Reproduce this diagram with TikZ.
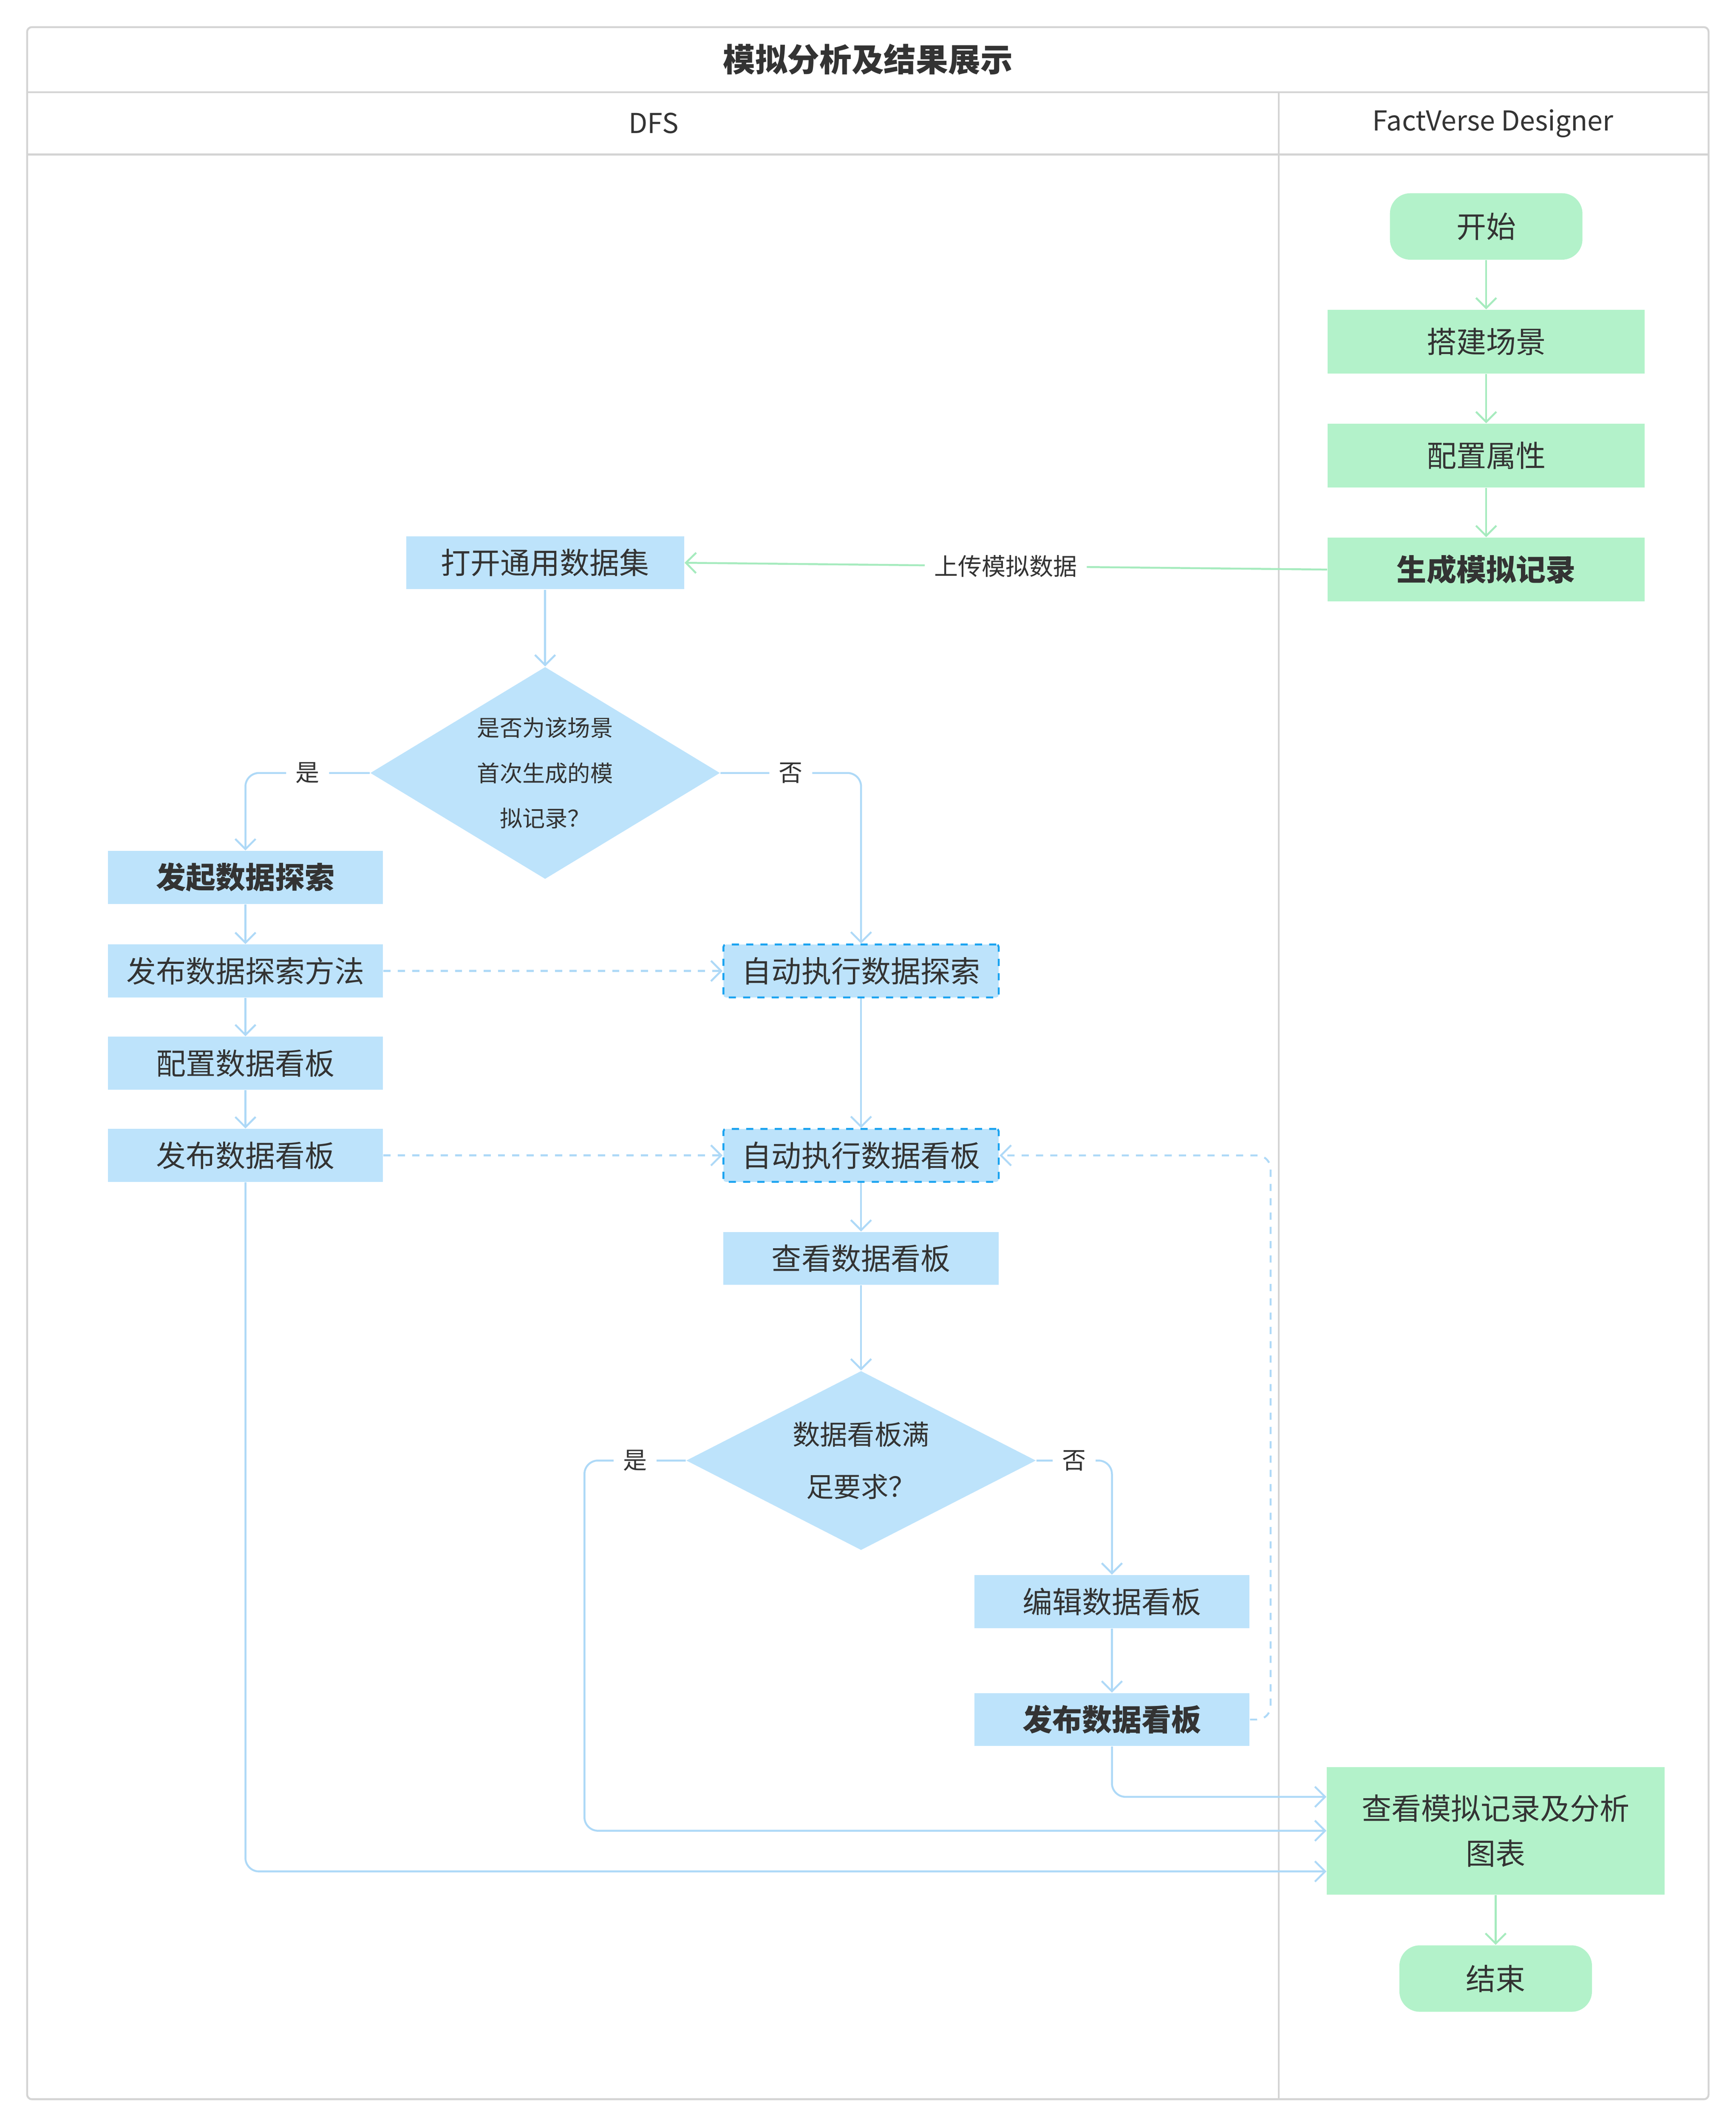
\documentclass[tikz,border=0pt]{standalone}
\usepackage{fontspec}
\setmainfont{Noto Sans CJK SC}
\usetikzlibrary{shapes.geometric,arrows.meta}
\definecolor{boxblue}{HTML}{BDE3FB}
\definecolor{boxgreen}{HTML}{B3F2CA}
\definecolor{lineblue}{HTML}{AED9F7}
\definecolor{linegreen}{HTML}{A6EBBE}
\definecolor{dashblue}{HTML}{1AA3F0}
\definecolor{frame}{HTML}{D4D4D4}
\definecolor{txt}{HTML}{333333}
\tikzset{
  blue/.style={rectangle,fill=boxblue,minimum width=4.06cm,minimum height=0.78cm,inner sep=0pt,font=\fontsize{12.5}{15}\selectfont,text=txt},
  auto/.style={blue,draw=dashblue,dashed,thick,rounded corners=1pt},
  green/.style={rectangle,fill=boxgreen,minimum width=4.68cm,minimum height=0.94cm,inner sep=0pt,font=\fontsize{12.5}{15}\selectfont,text=txt},
  term/.style={green,rounded corners=0.3cm,minimum width=2.84cm,minimum height=0.98cm},
  choice/.style={diamond,aspect=1.35,fill=boxblue,inner sep=0pt,text=txt,align=center},
  lbl/.style={fill=white,font=\fontsize{10}{12}\selectfont,text=txt,inner sep=4pt},
  arrow/.style={-{Straight Barb[length=1.5mm,width=3mm]},thick,color=lineblue,rounded corners=0.2cm},
  garrow/.style={arrow,color=linegreen},
  darrow/.style={arrow,dashed}}
\begin{document}
\begin{tikzpicture}[x=0.02cm,y=-0.02cm]
    \useasboundingbox (0,0) rectangle (1280,1567);
    % lanes
    \draw[frame,thick,rounded corners=2pt] (20,20) rectangle (1260,1548);
    \draw[frame,thick] (20,68) -- (1260,68) (20,114) -- (1260,114) (943,68) -- (943,1548);
    \node[font=\bfseries\fontsize{13.5}{16}\selectfont,text=txt] (title) at (640,44) {模拟分析及结果展示};
    \node[font=\fontsize{11.5}{14}\selectfont,text=txt] (dfs) at (482,91) {DFS};
    \node[font=\fontsize{11.5}{14}\selectfont,text=txt] (fvd) at (1101,91) {FactVerse Designer};
    % FactVerse Designer
    \node[term] (start) at (1096,167) {开始};
    \node[green] (scene) at (1096,252) {搭建场景};
    \node[green] (prop) at (1096,336) {配置属性};
    \node[green,font=\bfseries\fontsize{12.5}{15}\selectfont] (record) at (1096,420) {生成模拟记录};
    \node[green,minimum width=4.98cm,minimum height=1.88cm,align=center] (view) at (1103,1350) {查看模拟记录及分析\\[4pt]图表};
    \node[term] (end) at (1103,1459) {结束};
    % DFS
    \node[blue,minimum width=4.1cm] (open) at (402,415) {打开通用数据集};
    \node[choice,minimum width=5.16cm,font=\fontsize{9.5}{19}\selectfont] (first) at (402,570) {是否为该场景\\首次生成的模\\拟记录？};
    \node[blue,font=\bfseries\fontsize{12.5}{15}\selectfont] (explore) at (181,647) {发起数据探索};
    \node[blue] (pubexp) at (181,716) {发布数据探索方法};
    \node[blue] (conf) at (181,784) {配置数据看板};
    \node[blue] (pubboard) at (181,852) {发布数据看板};
    \node[auto] (autoexp) at (635,716) {自动执行数据探索};
    \node[auto] (autoboard) at (635,852) {自动执行数据看板};
    \node[blue] (check) at (635,928) {查看数据看板};
    \node[choice,minimum width=5.16cm,font=\fontsize{11.5}{22}\selectfont] (ok) at (635,1077) {数据看板满\\足要求？};
    \node[blue] (edit) at (820,1181) {编辑数据看板};
    \node[blue,font=\bfseries\fontsize{12.5}{15}\selectfont] (repub) at (820,1268) {发布数据看板};
    % connectors
    \draw[garrow] (start) -- (scene);
    \draw[garrow] (scene) -- (prop);
    \draw[garrow] (prop) -- (record);
    \draw[garrow] (record.west) -- node[lbl,pos=0.5] {上传模拟数据} (open.east);
    \draw[garrow] (view) -- (end);
    \draw[arrow] (open) -- (first);
    \draw[arrow] (first.west) -- node[lbl] {是} (181,570) -- (explore.north);
    \draw[arrow] (first.east) -- node[lbl] {否} (635,570) -- (autoexp.north);
    \draw[arrow] (explore) -- (pubexp);
    \draw[arrow] (pubexp) -- (conf);
    \draw[arrow] (conf) -- (pubboard);
    \draw[darrow] (pubexp) -- (autoexp);
    \draw[darrow] (pubboard) -- (autoboard);
    \draw[arrow] (autoexp) -- (autoboard);
    \draw[arrow] (autoboard) -- (check);
    \draw[arrow] (check) -- (ok);
    \draw[arrow] (ok.west) -- node[lbl] {是} (431,1077) -- (431,1350) -- (view.west);
    \draw[arrow] (ok.east) -- node[lbl] {否} (820,1077) -- (edit.north);
    \draw[arrow] (edit) -- (repub);
    \draw[darrow] (repub.east) -- (937,1268) -- (937,852) -- (autoboard.east);
    \draw[arrow] (repub.south) -- (820,1325) -- (view.west |- 0,1325);
    \draw[arrow] (pubboard.south) -- (181,1380) -- (view.west |- 0,1380);
\end{tikzpicture}
\end{document}
